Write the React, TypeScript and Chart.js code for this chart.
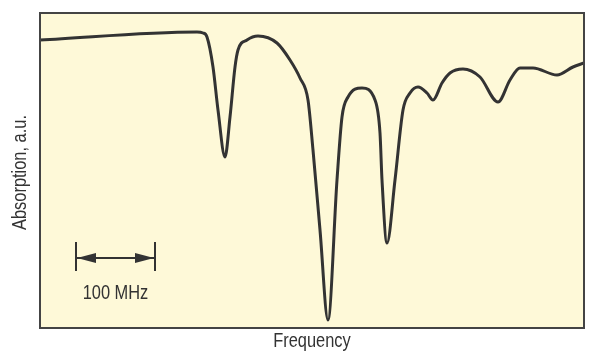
import { useEffect, useRef } from "react";
import { Chart, registerables } from "chart.js";

Chart.register(...registerables);

// Frequency (relative units across the plot) and absorption (a.u.)
const frequency = [
  0, 157, 163, 167, 173, 178, 185, 190, 195, 198, 207, 218, 237, 250, 260, 268,
  273, 280, 288, 297, 302, 308, 322, 335, 340, 342, 347, 355, 363, 370, 378,
  387, 393, 402, 410, 423, 440, 458, 470, 480, 493, 517, 533, 544,
];
const absorption = [
  288, 296, 295, 291, 261, 218, 171, 211, 261, 278, 288, 292, 285, 268, 250, 228,
  178, 98, 8, 148, 211, 231, 240, 228, 195, 148, 85, 148, 218, 235, 241,
  235, 228, 245, 255, 259, 251, 226, 248, 260, 260, 253, 261, 265,
];

const xRange = [0, 544];
const yRange = [0, 315];

// 100 MHz scale bar (in frequency units)
const scaleBarFrom = 36;
const scaleBarTo = 115;
const scaleBarLevel = 70;
const scaleBarTick = [57, 86];
const scaleBarLabelLevel = 35;
const scaleBarLabel = "100 MHz";

const xTitle = "Frequency";
const yTitle = "Absorption, a.u.";

const FONT = "'Liberation Sans', Arial, sans-serif";
const INK = "#333333";
const NARROW = 0.82;

function narrowText(ctx: CanvasRenderingContext2D, text: string, x: number, y: number) {
  ctx.save();
  ctx.translate(x, y);
  ctx.scale(NARROW, 1);
  ctx.fillText(text, 0, 0);
  ctx.restore();
}

const framePlugin = {
  id: "frame",
  beforeDraw(chart: any) {
    const { ctx, chartArea: a } = chart;
    ctx.save();
    ctx.fillStyle = "#fef9d8";
    ctx.fillRect(a.left, a.top, a.right - a.left, a.bottom - a.top);
    ctx.restore();
  },
  afterDraw(chart: any) {
    const { ctx, chartArea: a, scales } = chart;
    const x = scales.x;
    const y = scales.y;
    ctx.save();
    // frame
    ctx.strokeStyle = "#444444";
    ctx.lineWidth = 2;
    ctx.strokeRect(a.left, a.top, a.right - a.left, a.bottom - a.top);

    // scale bar
    const x0 = x.getPixelForValue(scaleBarFrom);
    const x1 = x.getPixelForValue(scaleBarTo);
    const yl = y.getPixelForValue(scaleBarLevel);
    const t0 = y.getPixelForValue(scaleBarTick[0]);
    const t1 = y.getPixelForValue(scaleBarTick[1]);
    ctx.strokeStyle = INK;
    ctx.fillStyle = INK;
    ctx.lineWidth = 2;
    ctx.beginPath();
    ctx.moveTo(x0, t0);
    ctx.lineTo(x0, t1);
    ctx.moveTo(x1, t0);
    ctx.lineTo(x1, t1);
    ctx.moveTo(x0, yl);
    ctx.lineTo(x1, yl);
    ctx.stroke();
    const ah = 20;
    const aw = 5;
    ctx.beginPath();
    ctx.moveTo(x0 + 1, yl);
    ctx.lineTo(x0 + ah, yl - aw);
    ctx.lineTo(x0 + ah, yl + aw);
    ctx.closePath();
    ctx.fill();
    ctx.beginPath();
    ctx.moveTo(x1 - 1, yl);
    ctx.lineTo(x1 - ah, yl - aw);
    ctx.lineTo(x1 - ah, yl + aw);
    ctx.closePath();
    ctx.fill();

    ctx.font = `20px ${FONT}`;
    ctx.textAlign = "center";
    ctx.textBaseline = "middle";
    narrowText(ctx, scaleBarLabel, (x0 + x1) / 2, y.getPixelForValue(scaleBarLabelLevel));

    // axis titles
    narrowText(ctx, xTitle, (a.left + a.right) / 2, a.bottom + 13);
    ctx.translate(20, (a.top + a.bottom) / 2 + 2);
    ctx.rotate(-Math.PI / 2);
    narrowText(ctx, yTitle, 0, 0);
    ctx.restore();
  },
};

export default function App() {
  const ref = useRef<HTMLCanvasElement | null>(null);
  useEffect(() => {
    if (!ref.current) return;
    const chart = new Chart(ref.current, {
      type: "line",
      data: {
        datasets: [
          {
            data: frequency.map((f, i) => ({ x: f, y: absorption[i] })),
            borderColor: "#333333",
            borderWidth: 3,
            pointRadius: 0,
            fill: false,
            cubicInterpolationMode: "monotone",
          },
        ],
      },
      options: {
        animation: false,
        responsive: false,
        devicePixelRatio: 1,
        layout: { padding: { left: 40, right: 16, top: 13, bottom: 35 } },
        plugins: { legend: { display: false }, tooltip: { enabled: false } },
        scales: {
          x: { type: "linear", min: xRange[0], max: xRange[1], display: false },
          y: { type: "linear", min: yRange[0], max: yRange[1], display: false },
        },
      },
      plugins: [framePlugin],
    });
    return () => chart.destroy();
  }, []);
  return (
    <div style={{ position: "absolute", left: 0, top: 0, width: 600, height: 363, background: "#fff" }}>
      <canvas ref={ref} width={600} height={363} />
    </div>
  );
}
